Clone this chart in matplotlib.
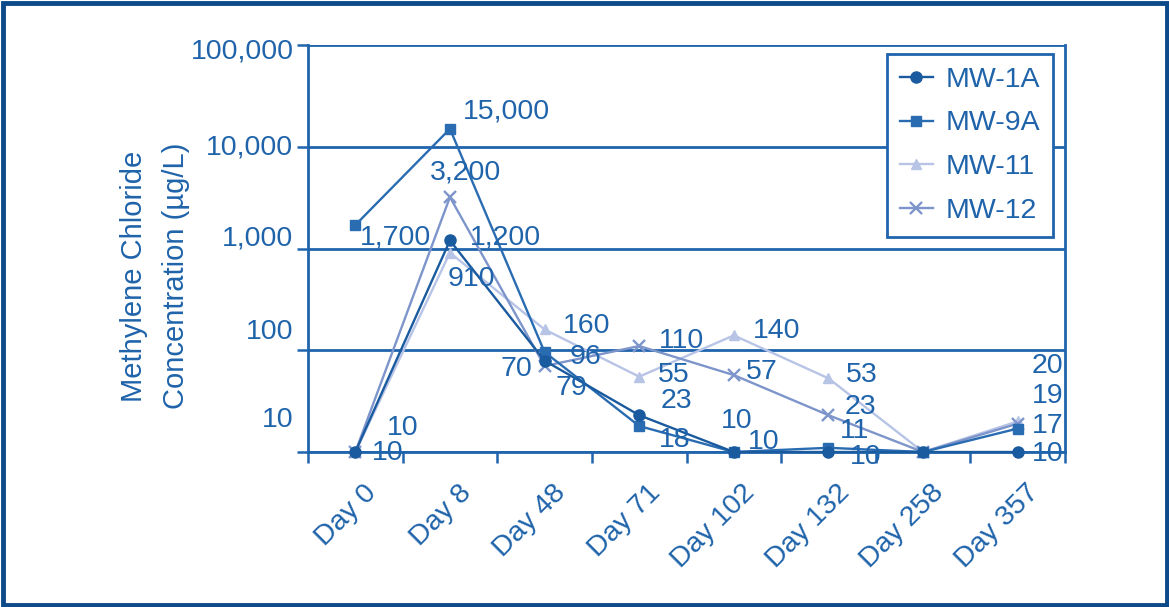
import matplotlib
matplotlib.use("Agg")
import matplotlib.pyplot as plt
from matplotlib.transforms import ScaledTranslation
from matplotlib.patches import Rectangle

plt.rcParams["font.family"] = ["Liberation Sans", "DejaVu Sans"]

# --- data -------------------------------------------------------------
days = ["Day 0", "Day 8", "Day 48", "Day 71", "Day 102", "Day 132", "Day 258", "Day 357"]
mw_1a = [10, 1200, 79, 23, 10, 10, 10, 10]
mw_9a = [1700, 15000, 96, 18, 10, 11, 10, 17]
mw_11 = [10, 910, 160, 55, 140, 53, 10, 20]
mw_12 = [10, 3200, 70, 110, 57, 23, 10, 19]
y_ticks = [10, 100, 1000, 10000, 100000]
y_tick_labels = ["10", "100", "1,000", "10,000", "100,000"]

TEXT = "#1f63aa"
FRAME = "#0c4a8a"
AXIS = "#1f64ad"
FS = 20.5

series = {
    "MW-1A": dict(values=mw_1a, color="#1a5a9f", marker="o", ms=8.0, mew=1.0, zorder=6),
    "MW-9A": dict(values=mw_9a, color="#2a6cb2", marker="s", ms=7.5, mew=1.0, zorder=5),
    "MW-11": dict(values=mw_11, color="#b7c4e6", marker="^", ms=7.5, mew=1.0, zorder=3),
    "MW-12": dict(values=mw_12, color="#7d95cb", marker="x", ms=8.5, mew=1.7, zorder=4),
}

# value labels: (series, category index, dx px, dy px, ha); dy positive = downward
value_labels = [
    ("MW-9A", 1, 13, -17, "left"),
    ("MW-12", 1, -20, -25, "left"),
    ("MW-9A", 0, 5, 12, "left"),
    ("MW-1A", 1, 20, -3, "left"),
    ("MW-11", 1, -2, 26, "left"),
    ("MW-1A", 0, 17, 1, "left"),
    ("MW-11", 0, 32, -24, "left"),
    ("MW-11", 2, 18, -3, "left"),
    ("MW-9A", 2, 25, 5, "left"),
    ("MW-12", 2, -12, 3, "right"),
    ("MW-1A", 2, 11, 27, "left"),
    ("MW-12", 3, 20, -5, "left"),
    ("MW-11", 3, 19, -2, "left"),
    ("MW-1A", 3, 21, -14, "left"),
    ("MW-9A", 3, 20, 14, "left"),
    ("MW-11", 4, 19, -4, "left"),
    ("MW-12", 4, 12, -3, "left"),
    ("MW-9A", 4, -13, -31, "left"),
    ("MW-1A", 4, 14, -10, "left"),
    ("MW-11", 5, 17, -3, "left"),
    ("MW-12", 5, 16, -8, "left"),
    ("MW-9A", 5, 11, -17, "left"),
    ("MW-1A", 5, 21, 5, "left"),
    ("MW-11", 7, 14, -55, "left"),
    ("MW-12", 7, 14, -28, "left"),
    ("MW-9A", 7, 14, -3, "left"),
    ("MW-1A", 7, 14, 2, "left"),
]

# --- figure -----------------------------------------------------------
W, H = 1169, 607
fig = plt.figure(figsize=(W / 100, H / 100), dpi=100)
fig.patch.set_facecolor("white")
fig.patches.append(Rectangle((2.5 / W, 2.5 / H), 1 - 5 / W, 1 - 5 / H,
                             transform=fig.transFigure, fill=False,
                             edgecolor=FRAME, linewidth=3.5))

ax = fig.add_axes([308 / W, 1 - 452 / H, (1065 - 308) / W, (452 - 45) / H])
x = list(range(len(days)))

for name, s in series.items():
    ax.plot(x, s["values"], color=s["color"], marker=s["marker"],
            markersize=s["ms"], markeredgewidth=s["mew"], linewidth=1.7,
            label=name, zorder=s["zorder"], clip_on=False)

ax.set_yscale("log")
ax.set_ylim(10, 100000)
ax.set_xlim(-0.5, len(days) - 0.5)

ax.set_yticks(y_ticks)
ax.set_yticklabels(y_tick_labels)
ax.yaxis.set_minor_locator(matplotlib.ticker.NullLocator())
ax.grid(axis="y", which="major", color=AXIS, linewidth=2.0, zorder=1)
ax.set_axisbelow(True)

ax.set_xticks(x)
ax.set_xticklabels(days, rotation=45, ha="right", va="top", rotation_mode="anchor")
ax.set_xticks([i - 0.5 for i in range(len(days) + 1)], minor=True)
ax.tick_params(axis="x", which="major", length=0, pad=20, labelsize=FS, labelcolor=TEXT)
ax.tick_params(axis="x", which="minor", length=8, width=1.8, color=AXIS, direction="out")
ax.tick_params(axis="y", which="major", length=8, width=1.8, color=AXIS, pad=2.5,
               labelsize=FS, labelcolor=TEXT)

for sp in ["left", "bottom", "right"]:
    ax.spines[sp].set_color(AXIS)
    ax.spines[sp].set_linewidth(2.0)
ax.spines["top"].set_visible(False)

# nudge y tick labels (pixel shifts, positive = downward)
label_shift = {"100,000": 4, "10,000": -2, "1,000": -13, "100": -21, "10": -35}
for lab in ax.get_yticklabels():
    dy = label_shift.get(lab.get_text(), 0)
    lab.set_transform(lab.get_transform() + ScaledTranslation(0, -dy / 100, fig.dpi_scale_trans))
for lab in ax.get_xticklabels():
    lab.set_transform(lab.get_transform() + ScaledTranslation(8 / 100, 0, fig.dpi_scale_trans))

# value annotations
for name, idx, dx, dy, ha in value_labels:
    v = series[name]["values"][idx]
    ax.annotate(f"{v:,}", xy=(idx, v), xytext=(dx * 0.72, -dy * 0.72),
                textcoords="offset points", ha=ha, va="center",
                fontsize=FS, color=TEXT, zorder=8, annotation_clip=False)

fig.text(155 / W, 1 - 276 / H, "Methylene Chloride\nConcentration (\u00b5g/L)",
         rotation=90, ha="center", va="center", multialignment="center",
         fontsize=21, color=TEXT, linespacing=1.68)

leg = ax.legend(loc="upper left", bbox_to_anchor=(887 / W, 1 - 54 / H),
                bbox_transform=fig.transFigure, fontsize=FS, frameon=True,
                fancybox=False, handlelength=1.15, handletextpad=0.45,
                labelspacing=0.62, borderpad=0.45, borderaxespad=0)
leg.get_frame().set_edgecolor(AXIS)
leg.get_frame().set_linewidth(2.0)
leg.get_frame().set_facecolor("white")
leg.get_frame().set_alpha(1.0)
for t in leg.get_texts():
    t.set_color(TEXT)
leg.set_zorder(10)

fig.savefig("out.png", dpi=100, facecolor="white")
